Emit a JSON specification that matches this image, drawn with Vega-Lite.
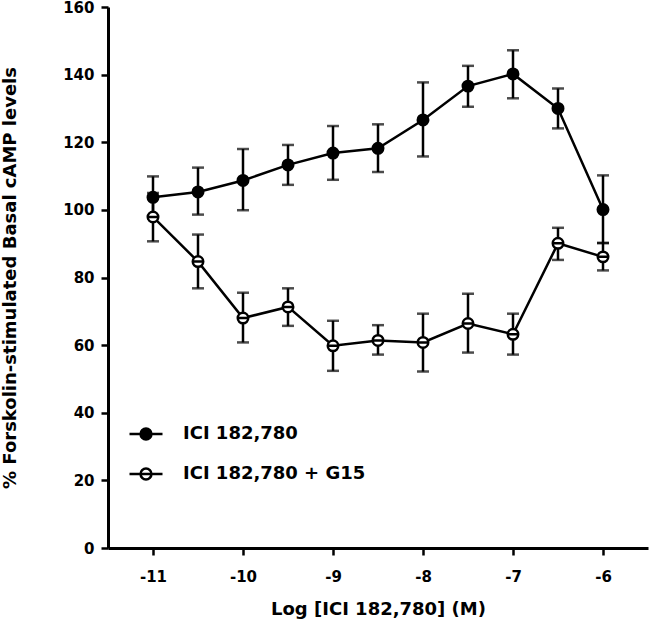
{
  "$schema": "https://vega.github.io/schema/vega-lite/v6.json",
  "autosize": "none",
  "width": 540,
  "height": 541,
  "padding": {"left": 108, "top": 7, "right": 3, "bottom": 71},
  "background": "white",
  "config": {
    "view": {"stroke": null},
    "font": "DejaVu Sans",
    "axis": {
      "grid": false,
      "domainColor": "black",
      "domainWidth": 3,
      "tickColor": "black",
      "tickWidth": 2.5,
      "tickSize": 7,
      "labelColor": "black",
      "labelFont": "DejaVu Sans",
      "labelFontSize": 15,
      "labelFontWeight": "bold",
      "titleColor": "black",
      "titleFont": "DejaVu Sans",
      "titleFontSize": 18,
      "titleFontWeight": "bold"
    }
  },
  "data": {
    "values": [
      {"series": "ICI 182,780", "x": -11, "y": 103.7, "lo": 97.5, "hi": 109.9},
      {"series": "ICI 182,780", "x": -10.5, "y": 105.3, "lo": 98.6, "hi": 112.5},
      {"series": "ICI 182,780", "x": -10, "y": 108.7, "lo": 99.9, "hi": 118.0},
      {"series": "ICI 182,780", "x": -9.5, "y": 113.3, "lo": 107.4, "hi": 119.2},
      {"series": "ICI 182,780", "x": -9, "y": 116.8, "lo": 108.9, "hi": 124.8},
      {"series": "ICI 182,780", "x": -8.5, "y": 118.2, "lo": 111.2, "hi": 125.3},
      {"series": "ICI 182,780", "x": -8, "y": 126.6, "lo": 115.8, "hi": 137.7},
      {"series": "ICI 182,780", "x": -7.5, "y": 136.6, "lo": 130.5, "hi": 142.6},
      {"series": "ICI 182,780", "x": -7, "y": 140.2, "lo": 133.0, "hi": 147.2},
      {"series": "ICI 182,780", "x": -6.5, "y": 130.0, "lo": 124.1, "hi": 135.9},
      {"series": "ICI 182,780", "x": -6, "y": 100.1, "lo": 90.2, "hi": 110.2},
      {"series": "ICI 182,780 + G15", "x": -11, "y": 97.9, "lo": 90.7, "hi": 105.0},
      {"series": "ICI 182,780 + G15", "x": -10.5, "y": 84.7, "lo": 76.8, "hi": 92.7},
      {"series": "ICI 182,780 + G15", "x": -10, "y": 68.0, "lo": 60.8, "hi": 75.5},
      {"series": "ICI 182,780 + G15", "x": -9.5, "y": 71.3, "lo": 65.7, "hi": 76.8},
      {"series": "ICI 182,780 + G15", "x": -9, "y": 59.8, "lo": 52.4, "hi": 67.2},
      {"series": "ICI 182,780 + G15", "x": -8.5, "y": 61.4, "lo": 57.2, "hi": 65.9},
      {"series": "ICI 182,780 + G15", "x": -8, "y": 60.8, "lo": 52.2, "hi": 69.3},
      {"series": "ICI 182,780 + G15", "x": -7.5, "y": 66.4, "lo": 57.8, "hi": 75.2},
      {"series": "ICI 182,780 + G15", "x": -7, "y": 63.2, "lo": 57.2, "hi": 69.3},
      {"series": "ICI 182,780 + G15", "x": -6.5, "y": 90.1, "lo": 85.2, "hi": 94.7},
      {"series": "ICI 182,780 + G15", "x": -6, "y": 86.1, "lo": 82.1, "hi": 90.2}
    ]
  },
  "encoding": {
    "x": {
      "field": "x",
      "type": "quantitative",
      "scale": {"domain": [-11.5, -5.5], "nice": false, "zero": false},
      "axis": {
        "title": "Log [ICI 182,780] (M)",
        "values": [-11, -10, -9, -8, -7, -6],
        "labelExpr": "toString(datum.value)",
        "labelPadding": 14,
        "titlePadding": 16,
        "labelFlush": false
      }
    },
    "y": {
      "field": "y",
      "type": "quantitative",
      "scale": {"domain": [0, 160], "nice": false},
      "axis": {
        "title": "% Forskolin-stimulated Basal cAMP levels",
        "values": [0, 20, 40, 60, 80, 100, 120, 140, 160],
        "labelPadding": 7,
        "titlePadding": 43,
        "labelFlush": false
      }
    }
  },
  "layer": [
    {
      "mark": {"type": "line", "color": "black", "strokeWidth": 2.5},
      "encoding": {"detail": {"field": "series"}}
    },
    {
      "mark": {"type": "rule", "color": "black", "strokeWidth": 2.5},
      "encoding": {
        "y": {"field": "lo", "type": "quantitative"},
        "y2": {"field": "hi"}
      }
    },
    {
      "mark": {"type": "tick", "color": "black", "orient": "horizontal", "size": 12, "thickness": 2.5},
      "encoding": {"y": {"field": "lo", "type": "quantitative"}}
    },
    {
      "mark": {"type": "tick", "color": "black", "orient": "horizontal", "size": 12, "thickness": 2.5},
      "encoding": {"y": {"field": "hi", "type": "quantitative"}}
    },
    {
      "transform": [{"filter": "datum.series == 'ICI 182,780'"}],
      "mark": {"type": "point", "shape": "circle", "stroke": "black", "strokeWidth": 2.5, "size": 110, "opacity": 1, "filled": false},
      "encoding": {
        "fill": {
          "field": "series",
          "type": "nominal",
          "scale": {"domain": ["ICI 182,780", "ICI 182,780 + G15"], "range": ["black", "white"]},
          "legend": {
            "title": null,
            "orient": "none",
            "legendX": 20,
            "legendY": 409,
            "padding": 0,
            "symbolType": "M-0.33,0A0.33,0.33 0 1,0 0.33,0A0.33,0.33 0 1,0 -0.33,0ZM-1,0L1,0",
            "symbolSize": 1089,
            "symbolStrokeWidth": 2.5,
            "symbolStrokeColor": "black",
            "symbolOpacity": 1,
            "labelFont": "DejaVu Sans",
            "labelFontSize": 18,
            "labelFontWeight": "bold",
            "labelColor": "black",
            "labelOffset": 19,
            "labelLimit": 400,
            "rowPadding": 11
          }
        }
      }
    },
    {
      "transform": [{"filter": "datum.series == 'ICI 182,780 + G15'"}],
      "mark": {"type": "point", "shape": "M-1,0A1,1 0 1,0 1,0A1,1 0 1,0 -1,0ZM-1,0L1,0", "stroke": "black", "strokeWidth": 2.5, "size": 110, "opacity": 1, "filled": false},
      "encoding": {
        "fill": {"field": "series", "type": "nominal"}
      }
    }
  ]
}
